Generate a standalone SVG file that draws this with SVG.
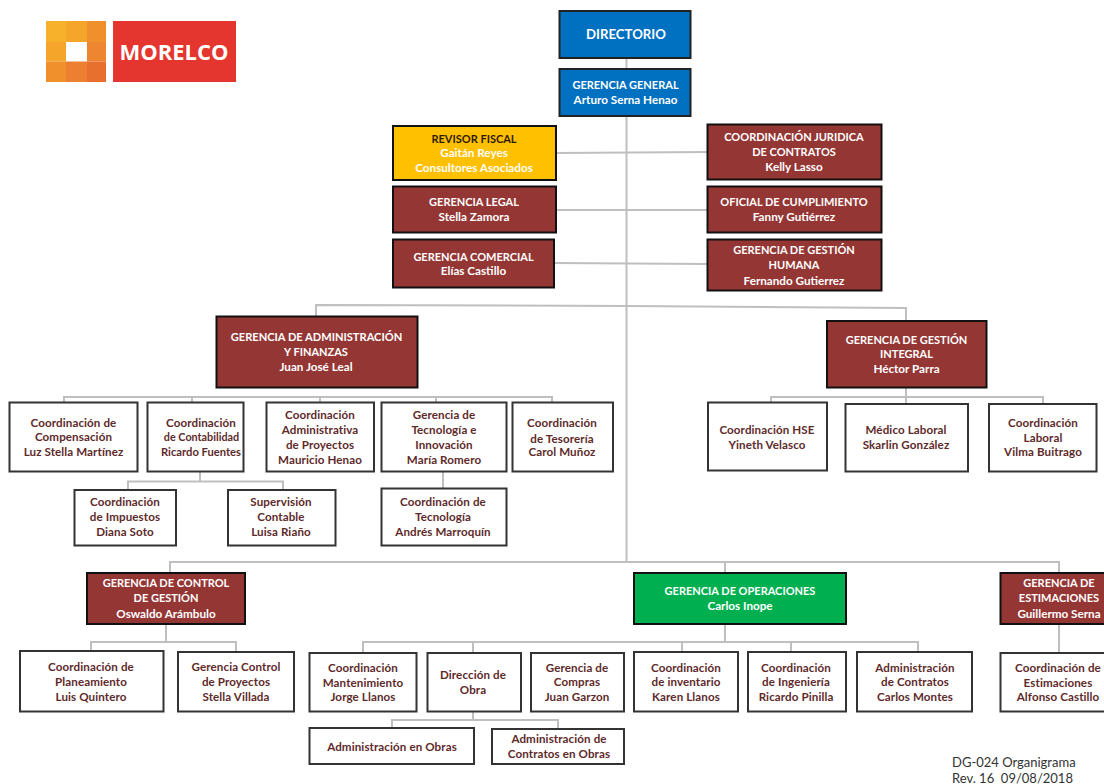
<svg xmlns="http://www.w3.org/2000/svg" width="1104" height="784" viewBox="0 0 1104 784">
<style>
text{font-family:"Lato","Carlito","Liberation Sans",sans-serif;font-weight:700;font-size:11px;text-anchor:middle}
.m{fill:#943634;stroke:#111;stroke-width:2}
.b{fill:#0070c0;stroke:#222;stroke-width:2}
.y{fill:#ffc000;stroke:#111;stroke-width:2}
.g{fill:#00b050;stroke:#111;stroke-width:2}
.w{fill:#fff;stroke:#333;stroke-width:2}
.tw{fill:#fff}
.td{fill:#5e2a2a;font-size:11.600px;letter-spacing:.1px}
.n{font-size:11.700px}
.c{fill:none;stroke:#bfbfbf;stroke-width:2}
</style>
<rect width="1104" height="784" fill="#fff"/>
<g id="logo">
<rect x="46" y="21" width="20" height="21" fill="#f8b12a"/><rect x="66" y="21" width="21" height="21" fill="#f6a52b"/><rect x="87" y="21" width="19" height="21" fill="#f0902d"/>
<rect x="46" y="42" width="20" height="19.500" fill="#f6a52b"/><rect x="66" y="42" width="21" height="19.500" fill="#fff"/><rect x="87" y="42" width="19" height="19.500" fill="#ee8530"/>
<rect x="46" y="61.500" width="20" height="20.500" fill="#f0902d"/><rect x="66" y="61.500" width="21" height="20.500" fill="#ec8030"/><rect x="87" y="61.500" width="19" height="20.500" fill="#e8702f"/>
<rect x="113" y="21" width="123" height="61" fill="#e4352e"/>
<text x="174" y="59.500" class="tw" style="font-family:'Open Sans','Liberation Sans',sans-serif;font-size:22px" textLength="109">MORELCO</text>
</g>
<g id="connectors" class="c">
<path d="M626.500 58V562"/>
<path d="M556 153L707 152M556 210H707M554 263L707 264"/>
<path d="M316 316V305L627 306L906 308V321"/>
<path d="M64 402V397H552V402M192 397V402M320 397V402M436 397V402"/>
<path d="M200 472V481.500M128 490V481.500H283V490"/>
<path d="M443 472V488"/>
<path d="M906 388V404M771 402V397H1043V404"/>
<path d="M170 573V562H1059V573M725 562V573"/>
<path d="M166 624V642M91 651V642H236V652"/>
<path d="M725 624V642M363 653V642H918V653M473 642V653M682 642V652M791 642V652"/>
<path d="M473 712V720M392 728V720H558V729"/>
<path d="M1059 624V653"/>
</g>
<g id="directorio"><rect class="b" x="559.500" y="11" width="131" height="47"/><text x="626" y="38.500" class="tw" style="font-size:13.200px">DIRECTORIO</text></g>
<g id="gerencia-general"><rect class="b" x="559.500" y="69" width="131" height="47"/><text class="tw"><tspan x="625.500" y="89">GERENCIA GENERAL</tspan><tspan x="625.500" y="104" class="n">Arturo Serna Henao</tspan></text></g>
<g id="revisor-fiscal"><rect class="y" x="393" y="126" width="163" height="54"/><text class="tw"><tspan x="474" y="143" style="fill:#2e1a00">REVISOR FISCAL</tspan><tspan x="474" y="157" class="n">Gaitán Reyes</tspan><tspan x="474" y="172" class="n">Consultores Asociados</tspan></text></g>
<g id="gerencia-legal"><rect class="m" x="393" y="186.500" width="163" height="46"/><text class="tw"><tspan x="474" y="206">GERENCIA LEGAL</tspan><tspan x="474" y="221" class="n">Stella Zamora</tspan></text></g>
<g id="gerencia-comercial"><rect class="m" x="393" y="239.500" width="161" height="48"/><text class="tw"><tspan x="473.500" y="261">GERENCIA COMERCIAL</tspan><tspan x="473.500" y="275" class="n">Elías Castillo</tspan></text></g>
<g id="coord-juridica"><rect class="m" x="707.500" y="124.500" width="174" height="55"/><text class="tw"><tspan x="794" y="141">COORDINACIÓN JURIDICA</tspan><tspan x="794" y="156">DE CONTRATOS</tspan><tspan x="794" y="171" class="n">Kelly Lasso</tspan></text></g>
<g id="oficial-cumplimiento"><rect class="m" x="707.500" y="186.500" width="174" height="46"/><text class="tw"><tspan x="794" y="206">OFICIAL DE CUMPLIMIENTO</tspan><tspan x="794" y="221" class="n">Fanny Gutiérrez</tspan></text></g>
<g id="gestion-humana"><rect class="m" x="707.500" y="239.500" width="174" height="51"/><text class="tw"><tspan x="794" y="254">GERENCIA DE GESTIÓN</tspan><tspan x="794" y="269">HUMANA</tspan><tspan x="794" y="285" class="n">Fernando Gutierrez</tspan></text></g>
<g id="admin-finanzas"><rect class="m" x="216.500" y="316.500" width="201" height="71"/><text class="tw"><tspan x="316.500" y="341" style="font-size:11.100px">GERENCIA DE ADMINISTRACIÓN</tspan><tspan x="316" y="356">Y FINANZAS</tspan><tspan x="316" y="371" class="n">Juan José Leal</tspan></text></g>
<g id="gestion-integral"><rect class="m" x="827" y="321" width="159.500" height="66.500"/><text class="tw"><tspan x="906.500" y="344">GERENCIA DE GESTIÓN</tspan><tspan x="906.500" y="358">INTEGRAL</tspan><tspan x="906.500" y="373" class="n">Héctor Parra</tspan></text></g>
<g id="compensacion"><rect class="w" x="9.500" y="402.500" width="128" height="69"/><text class="td"><tspan x="73.500" y="427">Coordinación de</tspan><tspan x="73.500" y="441">Compensación</tspan><tspan x="73.500" y="456">Luz Stella Martínez</tspan></text></g>
<g id="contabilidad"><rect class="w" x="147.500" y="402.500" width="96" height="69"/><text class="td"><tspan x="201" y="427">Coordinación</tspan><tspan x="201.500" y="441" style="font-size:10.800px;letter-spacing:0">de Contabilidad</tspan><tspan x="201" y="456" style="font-size:11.200px;letter-spacing:0">Ricardo Fuentes</tspan></text></g>
<g id="admin-proyectos"><rect class="w" x="266.500" y="402.500" width="107.500" height="69"/><text class="td"><tspan x="320" y="419">Coordinación</tspan><tspan x="320" y="434">Administrativa</tspan><tspan x="320" y="449">de Proyectos</tspan><tspan x="320" y="464">Mauricio Henao</tspan></text></g>
<g id="tecnologia-innovacion"><rect class="w" x="381.500" y="402.500" width="125" height="69"/><text class="td"><tspan x="444" y="419">Gerencia de</tspan><tspan x="444" y="434">Tecnología e</tspan><tspan x="444" y="449">Innovación</tspan><tspan x="444" y="464">María Romero</tspan></text></g>
<g id="tesoreria"><rect class="w" x="512.500" y="402.500" width="100.500" height="69"/><text class="td"><tspan x="562" y="427">Coordinación</tspan><tspan x="562" y="443">de Tesorería</tspan><tspan x="562" y="456">Carol Muñoz</tspan></text></g>
<g id="impuestos"><rect class="w" x="74.500" y="490" width="101.500" height="55.500"/><text class="td"><tspan x="125" y="506">Coordinación</tspan><tspan x="125" y="521">de Impuestos</tspan><tspan x="125" y="536">Diana Soto</tspan></text></g>
<g id="supervision-contable"><rect class="w" x="228" y="490" width="107.500" height="55.500"/><text class="td"><tspan x="281" y="506">Supervisión</tspan><tspan x="281" y="521">Contable</tspan><tspan x="281" y="536">Luisa Riaño</tspan></text></g>
<g id="coord-tecnologia"><rect class="w" x="381.500" y="488.500" width="125" height="57"/><text class="td"><tspan x="443" y="506">Coordinación de</tspan><tspan x="443" y="521">Tecnología</tspan><tspan x="443" y="536">Andrés Marroquín</tspan></text></g>
<g id="hse"><rect class="w" x="708" y="402.500" width="119" height="68"/><text class="td"><tspan x="767" y="434">Coordinación HSE</tspan><tspan x="767" y="449">Yineth Velasco</tspan></text></g>
<g id="medico-laboral"><rect class="w" x="845.500" y="404" width="122.500" height="67.500"/><text class="td"><tspan x="906" y="434">Médico Laboral</tspan><tspan x="906" y="449">Skarlin González</tspan></text></g>
<g id="coord-laboral"><rect class="w" x="989" y="404" width="107.500" height="67.500"/><text class="td"><tspan x="1043" y="427">Coordinación</tspan><tspan x="1043" y="442">Laboral</tspan><tspan x="1043" y="456">Vilma Buitrago</tspan></text></g>
<g id="control-gestion"><rect class="m" x="87" y="573" width="158" height="51"/><text class="tw"><tspan x="166" y="587">GERENCIA DE CONTROL</tspan><tspan x="166" y="602">DE GESTIÓN</tspan><tspan x="166" y="618" class="n">Oswaldo Arámbulo</tspan></text></g>
<g id="operaciones"><rect class="g" x="634" y="573" width="212" height="51"/><text class="tw"><tspan x="740" y="595">GERENCIA DE OPERACIONES</tspan><tspan x="740" y="610" class="n">Carlos Inope</tspan></text></g>
<g id="estimaciones"><rect class="m" x="1000.500" y="573" width="120" height="51"/><text class="tw"><tspan x="1059" y="587">GERENCIA DE</tspan><tspan x="1059" y="602">ESTIMACIONES</tspan><tspan x="1059" y="618" class="n">Guillermo Serna</tspan></text></g>
<g id="planeamiento"><rect class="w" x="20" y="651" width="143.500" height="60.500"/><text class="td"><tspan x="91" y="671">Coordinación de</tspan><tspan x="91" y="686">Planeamiento</tspan><tspan x="91" y="701">Luis Quintero</tspan></text></g>
<g id="control-proyectos"><rect class="w" x="178" y="652" width="116" height="59.500"/><text class="td"><tspan x="236" y="671">Gerencia Control</tspan><tspan x="236" y="686">de Proyectos</tspan><tspan x="236" y="701">Stella Villada</tspan></text></g>
<g id="mantenimiento"><rect class="w" x="309.500" y="653" width="107" height="58.500"/><text class="td"><tspan x="363" y="672">Coordinación</tspan><tspan x="363" y="687">Mantenimiento</tspan><tspan x="363" y="701">Jorge Llanos</tspan></text></g>
<g id="direccion-obra"><rect class="w" x="427.500" y="653" width="93.500" height="58.500"/><text class="td"><tspan x="473" y="679">Dirección de</tspan><tspan x="473" y="694">Obra</tspan></text></g>
<g id="compras"><rect class="w" x="531" y="653" width="93" height="58.500"/><text class="td"><tspan x="577" y="672">Gerencia de</tspan><tspan x="577" y="686">Compras</tspan><tspan x="577" y="701">Juan Garzon</tspan></text></g>
<g id="inventario"><rect class="w" x="634" y="652" width="104" height="59.500"/><text class="td"><tspan x="686" y="672">Coordinación</tspan><tspan x="686" y="686">de inventario</tspan><tspan x="686" y="701">Karen Llanos</tspan></text></g>
<g id="ingenieria"><rect class="w" x="748" y="652" width="98" height="59.500"/><text class="td"><tspan x="796" y="672">Coordinación</tspan><tspan x="796" y="686">de Ingeniería</tspan><tspan x="796" y="701">Ricardo Pinilla</tspan></text></g>
<g id="admin-contratos"><rect class="w" x="857" y="652" width="115" height="59.500"/><text class="td"><tspan x="915" y="672">Administración</tspan><tspan x="915" y="686">de Contratos</tspan><tspan x="915" y="701">Carlos Montes</tspan></text></g>
<g id="coord-estimaciones"><rect class="w" x="1000.500" y="653" width="120" height="58.500"/><text class="td"><tspan x="1058" y="672">Coordinación de</tspan><tspan x="1058" y="687">Estimaciones</tspan><tspan x="1058" y="701">Alfonso Castillo</tspan></text></g>
<g id="admin-obras"><rect class="w" x="309.500" y="728" width="164.500" height="36"/><text class="td" x="392" y="751">Administración en Obras</text></g>
<g id="admin-contratos-obras"><rect class="w" x="492" y="729" width="132" height="35"/><text class="td"><tspan x="559" y="743">Administración de</tspan><tspan x="559" y="758">Contratos en Obras</tspan></text></g>
<g id="revision"><text style="text-anchor:start;fill:#333;font-size:13px;font-weight:400;white-space:pre"><tspan x="952" y="767">DG-024 Organigrama</tspan><tspan x="952" y="783">Rev. 16  09/08/2018</tspan></text></g>
</svg>
